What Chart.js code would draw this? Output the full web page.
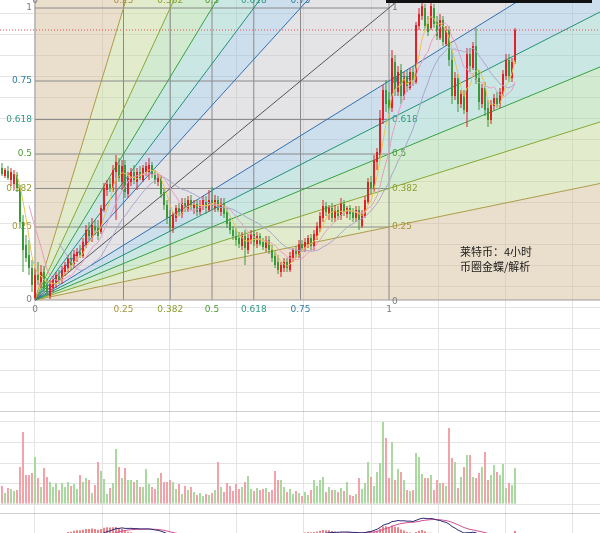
<!DOCTYPE html>
<html><head><meta charset="utf-8">
<script src="https://cdn.jsdelivr.net/npm/chart.js@4.4.1/dist/chart.umd.min.js"></script>
<style>
html,body{margin:0;padding:0;background:#fff;overflow:hidden}
#wrap{position:relative;width:600px;height:533px;overflow:hidden}
#wrap canvas{position:absolute;left:0}
</style></head><body>
<div id="wrap">
<canvas id="mainChart" width="600" height="411" style="top:0"></canvas>
<canvas id="volChart" width="600" height="102" style="top:411px"></canvas>
<canvas id="macdChart" width="600" height="20" style="top:513px"></canvas>
</div>
<script>
// ---------- data (LTC 4h candles) ----------
const opens = [
43.2,42.4,42.9,42.0,41.6,42.5,41.2,37.8,35.5,34.5,
33.2,30.2,32.5,31.8,32.8,31.5,30.4,31.2,31.8,32.4,
32.0,32.8,33.2,34.2,33.6,34.4,34.8,34.4,35.5,37.0,
36.2,37.4,37.2,36.8,39.0,41.0,41.6,41.0,42.8,43.5,
41.8,43.5,40.6,41.8,42.8,41.8,42.8,42.0,42.8,42.8,
43.5,42.5,41.8,42.3,40.8,39.5,38.4,37.2,38.2,39.2,
38.6,39.7,39.0,40.0,39.2,39.6,38.8,39.4,39.8,39.0,
40.0,39.2,40.0,38.8,39.7,38.8,37.8,37.0,36.4,36.2,
35.4,36.4,35.0,36.0,36.6,35.6,36.4,35.8,35.2,36.0,
35.0,34.4,33.8,32.8,33.2,33.8,33.0,34.2,35.0,34.5,
35.6,35.2,35.6,36.2,35.4,36.4,37.2,38.2,39.4,38.6,
39.2,38.2,39.0,38.4,39.6,38.6,39.2,38.8,38.2,39.0,
37.4,38.4,39.8,41.8,41.0,43.8,44.5,48.0,51.0,50.0,
49.2,53.8,50.8,53.0,50.4,52.4,51.2,52.8,51.8,57.4,
58.4,59.2,57.6,57.2,59.2,57.8,56.2,58.0,55.6,57.0,
54.0,50.4,52.2,49.6,50.6,48.8,54.6,53.2,55.4,52.2,
49.6,51.2,49.2,48.0,49.4,50.2,49.6,50.6,52.4,54.0,
52.2,53.8];
const highs = [
43.7,43.2,43.4,43.2,43.0,42.8,41.5,38.5,36.5,36.0,
34.0,33.2,33.8,33.5,33.4,32.2,32.0,32.4,32.8,33.0,
33.4,33.8,34.5,34.8,35.0,35.2,35.5,36.2,37.5,37.8,
38.2,38.0,38.0,39.5,41.7,42.0,42.2,43.5,44.5,44.2,
44.0,44.0,42.8,43.2,43.5,43.2,43.4,43.5,43.8,44.2,
43.8,43.0,42.6,42.5,41.2,40.0,39.0,38.8,39.5,39.7,
40.2,40.2,40.4,40.5,40.0,40.0,40.0,40.4,40.4,41.0,
41.3,40.5,40.4,40.2,40.2,39.2,38.2,37.4,37.2,36.8,
36.8,37.0,36.6,37.0,37.0,36.8,36.7,36.2,36.4,36.4,
35.5,35.0,34.5,33.8,34.2,34.2,34.8,35.2,35.4,36.0,
36.0,36.2,36.5,36.6,37.0,37.8,38.8,40.0,39.8,39.5,
39.7,39.5,39.4,40.2,40.0,39.4,39.5,39.2,39.4,39.4,
39.0,40.4,42.2,42.4,44.5,45.2,49.0,51.5,52.0,50.8,
55.0,54.5,53.4,53.6,52.8,53.0,53.2,53.4,57.8,59.2,
59.8,59.6,58.4,59.9,59.6,58.4,58.6,58.4,57.4,57.4,
55.0,52.8,52.6,51.0,51.0,55.2,55.2,55.8,57.2,53.0,
51.6,51.8,50.0,50.0,50.6,50.8,51.2,53.0,54.6,54.6,
54.2,57.2];
const lows = [
42.4,42.2,42.0,41.4,41.0,40.8,37.2,32.8,33.8,32.5,
30.8,30.0,31.5,31.2,30.8,30.4,30.1,30.8,31.2,31.6,
31.6,32.4,32.8,33.0,33.2,33.8,34.2,34.2,35.2,36.0,
35.8,36.5,36.0,36.6,38.8,40.4,40.8,40.8,38.0,41.8,
41.0,40.2,40.2,41.4,41.6,41.0,42.0,41.8,42.4,42.0,
42.2,41.6,41.4,40.2,39.0,37.6,36.8,36.7,37.8,38.4,
38.2,38.8,38.8,39.0,38.6,38.4,38.5,39.0,38.6,38.8,
39.0,38.8,38.8,38.4,38.2,37.2,36.6,36.0,35.4,35.2,
35.0,33.5,34.6,35.6,35.4,35.2,35.4,35.0,34.8,34.6,
33.8,33.2,32.6,32.3,32.8,32.8,32.8,33.8,34.2,34.2,
34.8,34.8,35.2,35.0,35.0,36.0,36.8,37.8,38.4,38.0,
37.8,37.8,38.0,38.0,38.4,38.2,38.0,37.8,37.8,37.0,
37.2,38.2,39.6,40.6,40.8,43.0,44.2,47.6,48.8,48.6,
48.8,50.4,50.4,49.6,50.0,50.8,51.0,51.4,51.6,57.0,
58.0,57.0,56.4,57.0,57.2,56.0,56.0,55.4,55.4,53.4,
49.6,50.0,48.8,49.2,48.6,47.3,52.8,53.0,51.6,49.0,
49.2,48.4,47.3,47.6,49.0,49.2,49.2,50.4,52.0,51.8,
51.8,53.6];
const closes = [
42.6,43.0,42.2,42.8,42.6,41.2,37.8,35.0,34.2,33.2,
31.5,32.5,32.0,32.8,31.2,30.8,31.6,32.0,32.5,32.0,
33.0,33.5,34.2,33.5,34.6,34.8,34.5,35.8,37.0,36.4,
37.5,37.0,36.4,39.2,41.2,41.6,41.2,43.0,43.8,42.2,
43.4,40.8,42.2,42.8,42.0,42.8,42.2,43.2,43.4,43.5,
42.5,42.0,42.3,40.6,39.5,38.2,37.2,38.5,39.2,38.8,
39.7,39.2,40.0,39.4,39.6,38.8,39.5,40.0,39.2,40.0,
39.4,40.0,39.0,39.7,38.6,37.6,37.0,36.4,36.0,35.6,
36.4,35.2,36.2,36.6,35.8,36.4,35.6,35.3,36.0,35.0,
34.2,33.5,33.0,33.5,33.8,33.2,34.4,35.0,34.6,35.6,
35.2,35.8,36.2,35.4,36.6,37.4,38.4,39.4,38.8,39.2,
38.2,39.0,38.4,39.6,38.8,39.2,38.6,38.2,39.0,38.0,
38.6,40.0,41.8,41.2,44.0,44.8,48.2,51.0,49.6,49.2,
54.2,51.0,52.8,50.4,52.2,51.4,52.8,52.0,57.5,58.6,
59.4,57.4,56.8,59.4,57.6,56.4,58.0,55.8,57.0,54.0,
50.4,52.2,49.6,50.6,49.0,54.6,53.4,55.4,52.0,49.8,
51.2,49.0,48.0,49.6,50.2,49.6,50.8,52.6,54.0,52.4,
53.8,57.0];
const volumes = [
18,11,16,15,13,14,37,72,29,29,
31,47,26,17,36,27,22,17,21,14,
21,17,22,18,20,15,29,22,26,24,
11,19,42,33,25,10,16,21,55,37,
26,36,24,24,22,24,17,17,35,20,
17,15,26,31,22,22,24,22,15,20,
10,18,14,17,12,9,11,8,10,9,
11,14,42,17,12,21,18,13,20,15,
17,22,28,15,13,16,14,15,16,12,
14,33,24,24,17,12,15,10,13,11,
8,12,9,14,24,18,24,27,12,17,
14,14,12,16,13,22,9,8,10,26,
15,21,42,27,18,32,41,82,66,26,
62,24,35,32,24,14,13,14,51,47,
30,26,26,29,14,24,21,21,18,76,
46,42,16,27,37,49,49,27,26,31,
37,52,24,29,39,32,29,40,16,21,
19,36];
const gannLevels = [0, 0.25, 0.382, 0.5, 0.618, 0.75, 1];
const gannLabels = ['0', '0.25', '0.382', '0.5', '0.618', '0.75', '1'];
const gannStart = {index: 11, price: 30.0};
const gannEnd = {index: 129, price: 59.2};
const noteLines = ['莱特币：4小时', '币圈金蝶/解析'];

// ---------- styles & layout ----------
const candleStep = 3;
const X_MIN = -2 / 3, X_MAX = X_MIN + 600 / candleStep;
const PRICE_MIN = 18.9, PRICE_MAX = 60;
const priceGridStart = 20.8, priceGridStep = 2.1, timeGridStep = 22.4;
const VOL_MIN = -9, VOL_MAX = 93, volGridStep = 20.5;
const MACD_MIN = 0.6, MACD_MAX = 5.8;
const UP = '#e41f26', DOWN = '#3a9a3a';
const VOL_UPC = '#a8daa0', VOL_DOWNC = '#f2a2a8';
const GRID = '#e4e4e4', SEP = '#a2a2a2';
const levelTextColors = ['#7c7c7c','#a8953e','#8a9f2e','#4c9a34','#2f9a86','#2f7ea0','#7c7c7c'];
const levelLineColors = ['#9c9c9c','#ad9c48','#86a834','#35a040','#1e9274','#3070b0','#555555'];
const bandFills = ['rgba(211,184,146,0.47)','rgba(193,213,144,0.47)','rgba(159,213,155,0.47)',
                   'rgba(144,204,195,0.47)','rgba(148,186,217,0.47)','rgba(197,197,204,0.47)'];
const BOX_LINE = '#8a8a8a';

// ---------- derived series ----------
const idx = closes.map((_, i) => i);
function sma(arr, n) {
  return arr.map((_, i) => i < n - 1 ? null : arr.slice(i - n + 1, i + 1).reduce((a, b) => a + b, 0) / n);
}
function ema(arr, n) {
  const k = 2 / (n + 1); const out = [];
  arr.forEach((v, i) => out.push(i === 0 ? v : out[i - 1] + k * (v - out[i - 1])));
  return out;
}
const ema12 = ema(closes, 12), ema26 = ema(closes, 26);
const dif = ema12.map((v, i) => v - ema26[i]);
const dea = ema(dif, 9);
const hist = dif.map((v, i) => 2 * (v - dea[i]));
const lastClose = closes[closes.length - 1];

// Gann geometry from the two anchors
const span = {x: gannEnd.index - gannStart.index, y: gannEnd.price - gannStart.price};
const EXT = 6;
const origin = {x: gannStart.index, y: gannStart.price};
const dirs = [];
for (let k = 0; k < gannLevels.length - 1; k++) dirs.push({k, d: {x: gannLevels[k] * span.x, y: span.y}});
dirs.push({k: gannLevels.length - 1, d: {x: span.x, y: span.y}});
for (let k = gannLevels.length - 2; k >= 0; k--) dirs.push({k, d: {x: span.x, y: gannLevels[k] * span.y}});
const far = d => ({x: origin.x + EXT * d.x, y: origin.y + EXT * d.y});

const mainDatasets = [];
// bands
for (let j = 0; j < dirs.length - 1; j++) {
  const a = far(dirs[j].d), b = far(dirs[j + 1].d);
  const first = a.x >= b.x ? a : b, second = a.x >= b.x ? b : a;
  mainDatasets.push({type: 'line', data: [first, {...origin}, second], fill: 'shape',
    backgroundColor: bandFills[Math.min(dirs[j].k, dirs[j + 1].k)], borderWidth: 0,
    pointRadius: 0, order: 60, tension: 0});
}
// box level lines
for (let k = 1; k < gannLevels.length; k++) {
  const L = gannLevels[k];
  const p = gannStart.price + L * span.y;
  const xi = gannStart.index + L * span.x;
  mainDatasets.push({type: 'line', data: [{x: gannStart.index, y: p}, {x: gannEnd.index, y: p}],
    borderColor: BOX_LINE, borderWidth: 1, pointRadius: 0, fill: false, order: 50});
  mainDatasets.push({type: 'line', data: [{x: xi, y: gannStart.price}, {x: xi, y: PRICE_MAX}],
    borderColor: BOX_LINE, borderWidth: 1, pointRadius: 0, fill: false, order: 50});
}
// fan lines
dirs.forEach(({k, d}) => {
  mainDatasets.push({type: 'line', data: [{...origin}, far(d)], borderColor: levelLineColors[k],
    borderWidth: 1, pointRadius: 0, fill: false, order: 40});
});
// last price line
mainDatasets.push({type: 'line', data: [{x: X_MIN, y: lastClose}, {x: X_MAX, y: lastClose}],
  borderColor: '#e05050', borderWidth: 1, borderDash: [1, 2], pointRadius: 0, fill: false, order: 30});
// candles
const candleColors = closes.map((c, i) => c >= opens[i] ? UP : DOWN);
mainDatasets.push({type: 'bar', label: 'wicks', data: idx.map(i => ({x: i, y: [lows[i], highs[i]]})),
  backgroundColor: candleColors, barThickness: 1, grouped: false, borderWidth: 0, inflateAmount: 0, order: 20});
mainDatasets.push({type: 'bar', label: 'bodies', data: idx.map(i => ({x: i, y: [Math.min(opens[i], closes[i]), Math.max(opens[i], closes[i])]})),
  backgroundColor: candleColors, barThickness: 2, grouped: false, borderWidth: 0, inflateAmount: 0, minBarLength: 1, order: 19});
// moving averages
[[5, '#e9c24e'], [10, '#e79ac0'], [20, '#aaa3cb']].forEach(([n, col]) => {
  const m = sma(closes, n);
  mainDatasets.push({type: 'line', data: idx.map(i => ({x: i, y: m[i]})), borderColor: col,
    borderWidth: 1, pointRadius: 0, fill: false, order: 10, tension: 0.3});
});

function xAxis() {
  return {
    type: 'linear', min: X_MIN, max: X_MAX, offset: false,
    grid: {color: GRID, drawTicks: false, offset: false},
    border: {display: false}, ticks: {display: false},
    afterBuildTicks(s) {
      const t = [];
      for (let v = gannStart.index; v <= X_MAX; v += timeGridStep) t.push({value: v});
      s.ticks = t;
    }
  };
}
const baseOpts = {
  responsive: false, maintainAspectRatio: false, animation: false, devicePixelRatio: 1,
  layout: {padding: 0},
  plugins: {legend: {display: false}, tooltip: {enabled: false}}
};

const gannTextPlugin = {
  id: 'gannText',
  beforeDatasetDraw(chart, args) {
    if (chart.data.datasets[args.index].label !== 'wicks') return;
    const {ctx} = chart, xs = chart.scales.x, ys = chart.scales.y;
    const x0 = xs.getPixelForValue(gannStart.index), x1 = xs.getPixelForValue(gannEnd.index);
    const y0 = ys.getPixelForValue(gannStart.price);
    ctx.save();
    ctx.font = '9px "DejaVu Sans", sans-serif';
    ctx.textBaseline = 'middle';
    gannLevels.forEach((L, k) => {
      const y = ys.getPixelForValue(gannStart.price + L * span.y);
      const x = xs.getPixelForValue(gannStart.index + L * span.x);
      ctx.fillStyle = levelTextColors[k];
      ctx.textAlign = 'right'; ctx.fillText(gannLabels[k], x0 - 3, y);
      ctx.textAlign = 'left'; ctx.fillText(gannLabels[k], x1 + 3, y + (L === 0 ? 2 : 0));
      ctx.textAlign = 'center'; ctx.fillText(gannLabels[k], x, y0 + 10);
      if (L < 1) ctx.fillText(gannLabels[k], x, chart.chartArea.top + 1);
    });
    ctx.restore();
  },
  afterDatasetsDraw(chart) {
    const {ctx} = chart, xs = chart.scales.x;
    ctx.save();
    ctx.font = '11px "Noto Sans CJK SC", sans-serif';
    ctx.fillStyle = '#1a1a1a';
    ctx.textAlign = 'left'; ctx.textBaseline = 'middle';
    ctx.fillText(noteLines[0], 460, 252);
    ctx.fillText(noteLines[1], 460, 267);
    ctx.fillStyle = '#111';
    const x1 = xs.getPixelForValue(gannEnd.index);
    ctx.fillRect(x1 - 3, 0, 206, 3);
    ctx.restore();
  }
};

new Chart(document.getElementById('mainChart'), {
  type: 'bar',
  data: {datasets: mainDatasets},
  options: {...baseOpts,
    scales: {
      x: xAxis(),
      y: {min: PRICE_MIN, max: PRICE_MAX, grid: {color: GRID, drawTicks: false},
        border: {display: false}, ticks: {display: false},
        afterBuildTicks(s) {
          const t = [];
          for (let v = priceGridStart; v <= PRICE_MAX; v += priceGridStep) t.push({value: v});
          s.ticks = t;
        }}
    }},
  plugins: [gannTextPlugin]
});

new Chart(document.getElementById('volChart'), {
  type: 'bar',
  data: {datasets: [{data: idx.map(i => ({x: i, y: volumes[i]})),
    backgroundColor: closes.map((c, i) => c >= opens[i] ? VOL_UPC : VOL_DOWNC),
    barThickness: 2, grouped: false, borderWidth: 0, inflateAmount: 0}]},
  options: {...baseOpts,
    scales: {
      x: xAxis(),
      y: {min: VOL_MIN, max: VOL_MAX, border: {display: false}, ticks: {display: false},
        grid: {drawTicks: false,
          color: c => (c.tick && c.tick.value === VOL_MAX) ? SEP : GRID,
          lineWidth: c => (c.tick && c.tick.value === VOL_MAX) ? 1.5 : 1},
        afterBuildTicks(s) {
          const t = [];
          for (let v = 0; v < VOL_MAX - 2; v += volGridStep) t.push({value: v});
          t.push({value: VOL_MAX});
          s.ticks = t;
        }}
    }}
});

new Chart(document.getElementById('macdChart'), {
  type: 'bar',
  data: {datasets: [
    {type: 'line', data: idx.map(i => ({x: i, y: dif[i]})), borderColor: '#2b2b78', borderWidth: 1, pointRadius: 0, fill: false, order: 1},
    {type: 'line', data: idx.map(i => ({x: i, y: dea[i]})), borderColor: '#d2508e', borderWidth: 1, pointRadius: 0, fill: false, order: 2},
    {type: 'bar', data: idx.map(i => ({x: i, y: hist[i]})), backgroundColor: hist.map(v => v >= 0 ? '#e86a70' : '#6cbf6c'),
      barThickness: 1, grouped: false, borderWidth: 0, order: 3}
  ]},
  options: {...baseOpts,
    scales: {
      x: xAxis(),
      y: {min: MACD_MIN, max: MACD_MAX, border: {display: false}, ticks: {display: false},
        grid: {drawTicks: false, color: SEP, lineWidth: 1.5},
        afterBuildTicks(s) { s.ticks = [{value: MACD_MAX}]; }}
    }}
});
</script>
</body></html>
